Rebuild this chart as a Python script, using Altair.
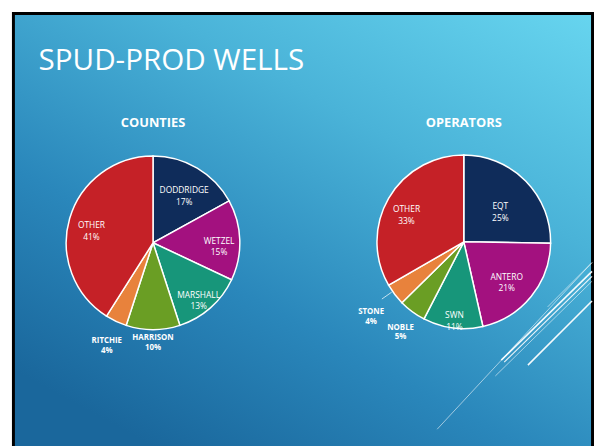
import altair as alt
import pandas as pd

# ---- data ----
county_names = ["DODDRIDGE", "WETZEL", "MARSHALL", "HARRISON", "RITCHIE", "OTHER"]
county_pct = [17, 15, 13, 10, 4, 41]
operator_names = ["EQT", "ANTERO", "SWN", "NOBLE", "STONE", "OTHER"]
operator_pct = [25, 21, 11, 5, 4, 33]
slice_colors = ["#0f2c5a", "#a3117f", "#17967a", "#6a9e24", "#e8823c", "#c52127"]
slide_title = "SPUD-PROD WELLS"
panel_titles = ["COUNTIES", "OPERATORS"]

# ---- layout / style (not data) ----
W, H = 594, 438
PIE_R = 88
county_center = (147, 235)
operator_center = (462, 234)
county_label_r = [62, 67, 70, 97, 110, 65]
operator_label_r = [52, 56, 75, 108, 118, 67]
outside = [False, False, False, True, True, False]
FONT = "Open Sans"


def pie_frame(names, pct):
    return pd.DataFrame({
        "name": names,
        "pct": pct,
        "order": list(range(len(names))),
        "color": slice_colors[: len(names)],
    })


def pie(df, center, radii, title):
    cx, cy = center
    base = (
        alt.Chart(df)
        .transform_joinaggregate(total="sum(pct)")
        .transform_calculate(
            frac="datum.pct / datum.total",
            label="datum.name + '\\n' + datum.pct + '%'",
        )
        .encode(
            theta=alt.Theta("frac:Q", stack=True),
            order=alt.Order("order:Q"),
            x=alt.value(cx),
            y=alt.value(cy),
        )
    )
    layers = [
        base.mark_arc(radius=PIE_R, stroke="white", strokeWidth=1.5).encode(
            color=alt.Color("color:N", scale=None)
        )
    ]
    for i, r in enumerate(radii):
        if outside[i]:
            style = dict(fontSize=8, fontWeight="bold", lineHeight=10)
        else:
            style = dict(fontSize=8.5, lineHeight=12)
        layers.append(
            base.transform_calculate(t=f"datum.order == {i} ? datum.label : ''")
            .mark_text(
                font=FONT, color="white", lineBreak="\n", align="center",
                baseline="middle", radius=r, **style
            )
            .encode(text="t:N")
        )
    layers.append(
        alt.Chart(pd.DataFrame({"t": [title]})).mark_text(
            font=FONT, fontSize=13, fontWeight="bold", color="white",
            align="center", baseline="middle"
        ).encode(text="t:N", x=alt.value(cx), y=alt.value(114))
    )
    return alt.layer(*layers)


county_df = pie_frame(county_names, county_pct)
operator_df = pie_frame(operator_names, operator_pct)

one = pd.DataFrame({"a": [0]})

background = alt.Chart(one).mark_rect(
    color=alt.Gradient(
        gradient="linear",
        x1=1, y1=0, x2=0.3, y2=1,
        stops=[
            alt.GradientStop(color="#67d5ef", offset=0),
            alt.GradientStop(color="#4ab3d8", offset=0.35),
            alt.GradientStop(color="#2a87bb", offset=0.7),
            alt.GradientStop(color="#1a679c", offset=1),
        ],
    ),
    stroke="black", strokeWidth=3,
).encode(x=alt.value(5.5), x2=alt.value(592.5), y=alt.value(2.5), y2=alt.value(460))

title = alt.Chart(pd.DataFrame({"t": [slide_title]})).mark_text(
    font=FONT, fontSize=30, color="white", align="left", baseline="alphabetic"
).encode(text="t:N", x=alt.value(31), y=alt.value(60))

# decorative diagonal lines (bottom right of the slide) and the STONE leader line
deco = pd.DataFrame([
    {"x": 435, "y": 424, "x2": 592, "y2": 255, "w": 0.8, "o": 0.7},
    {"x": 500, "y": 354, "x2": 592, "y2": 264, "w": 1.6, "o": 0.95},
    {"x": 503, "y": 356, "x2": 592, "y2": 269, "w": 1.2, "o": 0.9},
    {"x": 494, "y": 370, "x2": 592, "y2": 274, "w": 0.8, "o": 0.7},
    {"x": 527, "y": 359, "x2": 592, "y2": 294, "w": 1.6, "o": 0.95},
    {"x": 547, "y": 300, "x2": 592, "y2": 255, "w": 0.8, "o": 0.7},
    {"x": 379, "y": 292, "x2": 389, "y2": 285, "w": 0.8, "o": 0.9},
])
lines = alt.Chart(deco).mark_rule(color="white").encode(
    x=alt.X("x:Q", scale=None, axis=None),
    y=alt.Y("y:Q", scale=None, axis=None),
    x2="x2:Q", y2="y2:Q",
    strokeWidth=alt.StrokeWidth("w:Q", scale=None, legend=None),
    opacity=alt.Opacity("o:Q", scale=None, legend=None),
)

chart = (
    alt.layer(
        background,
        title,
        lines,
        pie(county_df, county_center, county_label_r, panel_titles[0]),
        pie(operator_df, operator_center, operator_label_r, panel_titles[1]),
    )
    .properties(width=W, height=H, padding=0, autosize="none", background="white")
    .configure_view(stroke=None)
)

chart.save("out.html", embed_options={"renderer": "svg", "actions": False})
